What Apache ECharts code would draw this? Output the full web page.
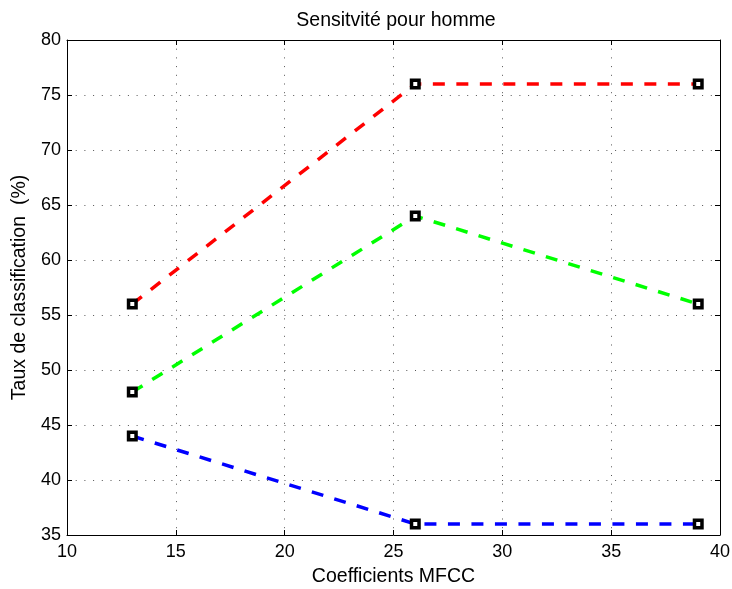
<!DOCTYPE html>
<html><head><meta charset="utf-8">
<script src="https://cdn.jsdelivr.net/npm/echarts@6/dist/echarts.min.js"></script>
<style>html,body{margin:0;padding:0;background:#fff}#c{width:732px;height:589px}</style>
</head><body><div id="c"></div>
<script>
const xValues = [13, 26, 39];
const redValues = [56, 76, 76];
const greenValues = [48, 64, 56];
const blueValues = [44, 36, 36];
const xTicks = [10, 15, 20, 25, 30, 35, 40];
const yTicks = [35, 40, 45, 50, 55, 60, 65, 70, 75, 80];

const font = 'Liberation Sans, Arial, sans-serif';
function mk(vals, color) {
  return {
    type: 'line', data: xValues.map((x, i) => [x, vals[i]]),
    symbol: 'rect', symbolSize: 7.5,
    itemStyle: { color: '#fff', borderColor: '#000', borderWidth: 3.5 },
    lineStyle: { color: color, width: 3.5, type: [12, 11.5], cap: 'butt' },
    z: 3
  };
}
const tickStyle = { show: true, inside: true, length: 5, lineStyle: { color: '#000' } };
const gridLine = { show: true, lineStyle: { color: '#555', width: 1, type: [1, 7.7] } };
const chart = echarts.init(document.getElementById('c'));
chart.setOption({
  animation: false,
  title: { text: 'Sensitvité pour homme', left: 391, top: 6, textAlign: 'center',
    textStyle: { fontFamily: font, fontSize: 19.5, fontWeight: 'normal', color: '#000' } },
  grid: { left: 67, right: 12, top: 40, bottom: 54, outerBoundsMode: 'none', containLabel: false },
  xAxis: [{
    type: 'value', min: 10, max: 40, interval: 5,
    name: 'Coefficients MFCC', nameLocation: 'middle', nameGap: 32,
    nameTextStyle: { fontFamily: font, fontSize: 19.5, color: '#000' },
    axisLine: { show: true, lineStyle: { color: '#000', width: 1 } },
    axisTick: tickStyle,
    axisLabel: { fontFamily: font, fontSize: 18, color: '#000', margin: 8,
      customValues: xTicks },
    splitLine: gridLine
  }, {
    type: 'value', min: 10, max: 40, interval: 5, position: 'top',
    axisLine: { show: true, lineStyle: { color: '#000', width: 1 } },
    axisTick: tickStyle, axisLabel: { show: false }, splitLine: { show: false }
  }],
  yAxis: [{
    type: 'value', min: 35, max: 80, interval: 5,
    name: 'Taux de classification  (%)', nameLocation: 'middle', nameGap: 37,
    nameTextStyle: { fontFamily: font, fontSize: 19.5, color: '#000' },
    axisLine: { show: true, lineStyle: { color: '#000', width: 1 } },
    axisTick: tickStyle,
    axisLabel: { fontFamily: font, fontSize: 18, color: '#000', margin: 6,
      customValues: yTicks },
    splitLine: gridLine
  }, {
    type: 'value', min: 35, max: 80, interval: 5, position: 'right',
    axisLine: { show: true, lineStyle: { color: '#000', width: 1 } },
    axisTick: tickStyle, axisLabel: { show: false }, splitLine: { show: false }
  }],
  series: [mk(redValues, '#ff0000'), mk(greenValues, '#00ff00'), mk(blueValues, '#0000ff')]
});
</script></body></html>
